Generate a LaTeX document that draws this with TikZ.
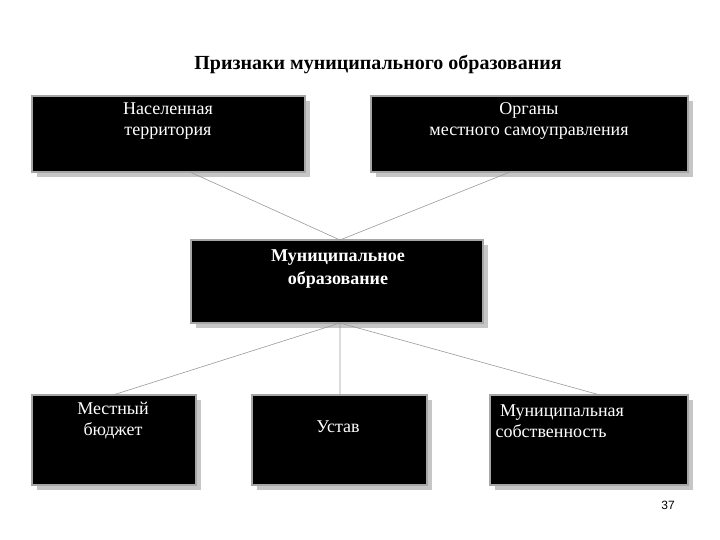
\documentclass[tikz,border=0pt]{standalone}
\usepackage{fontspec}
\setmainfont{Liberation Serif}
\newfontfamily\sansf{Liberation Sans}
\begin{document}
\begin{tikzpicture}[x=1pt,y=-1pt,
  box/.style={draw=gray!70,line width=1.2pt,fill=black},
  shad/.style={fill=gray!45},
  txt/.style={text=white,font=\fontsize{18}{21}\selectfont,align=center,anchor=north},
  con/.style={draw=gray!80,line width=0.6pt}]
\useasboundingbox (0,0) rectangle (720,540);
\node[font=\bfseries\fontsize{20}{24}\selectfont] (title) at (378,65) {Признаки муниципального образования};
% shadows
\foreach \a/\b/\c/\d in {32/96/305/172,371/96/688/172,191/240/483/323,32/395/196/485,252/395/427/485,490/395/688/485}
  \fill[shad] (\a+5,\b+5) rectangle (\c+5,\d+5);
\draw[box] (32,96) rectangle (305,172); \coordinate (A) at (190,172);
\draw[box] (371,96) rectangle (688,172); \coordinate (B) at (510,172);
\draw[box] (191,240) rectangle (483,323); \coordinate (Ct) at (340,240); \coordinate (Cb) at (340,323);
\draw[box] (32,395) rectangle (196,485); \coordinate (D) at (113,395);
\draw[box] (252,395) rectangle (427,485); \coordinate (E) at (340,395);
\draw[box] (490,395) rectangle (688,485); \coordinate (F) at (600,395);
\node[txt] (ta) at (168,99) {Населенная\\территория};
\node[txt] (tb) at (529,99) {Органы\\местного самоуправления};
\node[txt,font=\bfseries\fontsize{18}{23}\selectfont] (tc) at (338,246) {Муниципальное\\образование};
\node[txt] (td) at (113,399) {Местный\\бюджет};
\node[txt] (te) at (338,417) {Устав};
\node[txt,align=left,anchor=north west] (tf) at (492,401) {\ Муниципальная\\собственность};
\draw[con] (A) -- (Ct) (B) -- (Ct);
\draw[con] (Cb) -- (D) (Cb) -- (E) (Cb) -- (F);
\node[font=\sansf\fontsize{12}{14}\selectfont] (pg) at (668,505) {37};
\end{tikzpicture}
\end{document}
